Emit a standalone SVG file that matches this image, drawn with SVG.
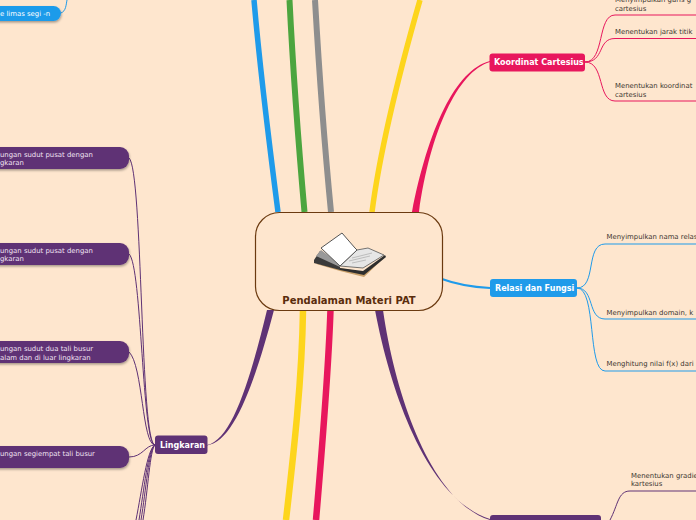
<svg xmlns="http://www.w3.org/2000/svg" width="696" height="520" viewBox="0 0 696 520">
<defs>
<filter id="sh" x="-10%" y="-20%" width="120%" height="150%"><feDropShadow dx="0.5" dy="1.5" stdDeviation="1" flood-color="#000" flood-opacity="0.35"/></filter>
</defs>
<style>
text{font-family:"DejaVu Sans",Verdana,sans-serif}
.p{fill:#5f3275}
.pill{filter:url(#sh)}
.pt{font-size:6.900px;fill:#f0e2f2}
.st{font-size:6.900px;fill:#3d3630}
.bt{font-size:8px;font-weight:bold;fill:#fff}
.c{fill:none}
.pu{stroke:#5f3275;stroke-width:1}
.cr{stroke:#e8175d;stroke-width:1}
.bl{stroke:#1f9bea;stroke-width:1}
</style>
<rect width="696" height="520" fill="#fee6ce"/>
<g id="connectors">
<path class="c" d="M254,0 C260,70 270,150 278,212" stroke="#1f9bea" stroke-width="5.500"/>
<path class="c" d="M289.500,0 C293,70 299,150 304.500,212" stroke="#4ca53f" stroke-width="6"/>
<path class="c" d="M315,0 C319,70 325,150 331,212" stroke="#8e8e8e" stroke-width="6"/>
<path class="c" d="M420,0 C400,70 380,150 372,212" stroke="#fdd51c" stroke-width="5.500"/>
<path d="M412,212 C428,130 455,70 490,61 L490,62 C458,71 430,132 419,212 Z" fill="#e8175d"/>
<path class="c" d="M303,310 C302,380 294,450 286,520" stroke="#fdd51c" stroke-width="6.500"/>
<path class="c" d="M330.500,310 C328,380 322,450 316,520" stroke="#e8175d" stroke-width="6.500"/>
<path d="M267,310 C250,380 232,440 207,445 L207,445.500 C234,442 255,382 274,310 Z" class="p"/>
<path d="M375,310 C392,400 430,500 490,519 L490,520 C433,503 396,400 383,310 Z" class="p"/>
<path d="M442,279 C458,285 472,287 490,288" class="c" stroke="#1f9bea" stroke-width="2"/>
<g class="c pu">
<path d="M155,445 C140,445 143,170 129,158"/>
<path d="M155,445 C142,445 142,265 129,254"/>
<path d="M155,445 C142,445 143,365 129,352"/>
<path d="M155,445 C145,445 143,457 129,457"/>
<path d="M155,445 C147,449 142,490 136,520"/>
<path d="M155,445 C148,449 144,490 139,520"/>
<path d="M155,445 C149,449 146,490 141,520"/>
<path d="M155,445 C150,449 148,490 143,520"/>
<path d="M610,520 C618,505 618,491 630,491"/>
</g>
<path d="M630,491 H696" class="c" stroke="#5f3275" stroke-opacity="0.5" stroke-width="2"/>
<g class="c cr">
<path d="M585,62 C605,62 597,15 615,15 H696"/>
<path d="M585,62 C605,62 597,38.500 615,38.500 H696"/>
<path d="M585,62 C605,62 597,101 615,101 H696"/>
</g>
<g class="c bl">
<path d="M577,288 C597,288 585,244 605,244 H696"/>
<path d="M577,288 C595,288 587,319 605,319 H696"/>
<path d="M577,288 C597,288 587,371 605,371"/>
</g>
<path d="M605,371 H696" class="c" stroke="#1f9bea" stroke-opacity="0.5" stroke-width="2"/>
<path d="M61,13 C66,11 66,5 67,0" class="c bl"/>
</g>
<g id="root">
<rect x="255.500" y="212.500" width="187" height="98" rx="24" fill="#fee6ce" stroke="#6b3a10" stroke-width="1.200"/>
<path d="M340,268 L363,272 L386,256 L364,277 L340,271 L313,263 Z" fill="#c9a06a"/>
<path d="M314,260 L320,251 L340,266 L340,270 L314,263 Z" fill="#3a3a3a"/>
<path d="M316,256 L321,250 L340,264 L340,267 Z" fill="#999"/>
<path d="M340,268 L363,271 L385,255 L386,257 L364,275 L340,270 Z" fill="#2e2e2e"/>
<path d="M357,250 L368,248 L384,255 L363,268 L340,266 Z" fill="#e6e6e6" stroke="#555" stroke-width="0.800"/>
<path d="M321,248 L342,233 L355,248 L357,250 L340,266 Z" fill="#fff" stroke="#555" stroke-width="1"/>
<path d="M352,258 L372,253 M349,261 L370,256 M352,263 L366,260" stroke="#aaa" stroke-width="0.700" fill="none"/>
<text x="349" y="304" text-anchor="middle" font-size="10" font-weight="bold" fill="#5a2d0c">Pendalaman Materi PAT</text>
</g>
<g id="n-koordinat"><rect x="489.500" y="53.500" width="95.500" height="18" rx="3" fill="#e8175d"/><text class="bt" x="494" y="65">Koordinat Cartesius</text></g>
<g id="n-relasi"><rect x="490" y="279" width="87" height="18" rx="3" fill="#1f9bea"/><text class="bt" x="495" y="291">Relasi dan Fungsi</text></g>
<g id="n-lingkaran"><rect x="155" y="435.500" width="52.500" height="18.500" rx="3" class="p"/><text class="bt" x="160" y="448">Lingkaran</text></g>
<g id="n-bottom"><rect x="490" y="515" width="111" height="18" rx="3" class="p"/></g>
<g id="n-limas"><rect x="-20" y="6" width="81" height="15" rx="7.500" fill="#1f9bea" class="pill"/><text x="0" y="16" style="font-size:6.900px;fill:#fff">e limas segi -n</text></g>
<g id="n-l1"><rect x="-20" y="147" width="149" height="22" rx="9" class="p pill"/><text class="pt" x="0" y="157">ungan sudut pusat dengan</text><text class="pt" x="0" y="165">gkaran</text></g>
<g id="n-l2"><rect x="-20" y="243" width="149" height="22" rx="9" class="p pill"/><text class="pt" x="0" y="253">ungan sudut pusat dengan</text><text class="pt" x="0" y="261">gkaran</text></g>
<g id="n-l3"><rect x="-20" y="341" width="149" height="22" rx="9" class="p pill"/><text class="pt" x="0" y="351">ungan sudut dua tali busur</text><text class="pt" x="0" y="360">alam dan di luar lingkaran</text></g>
<g id="n-l4"><rect x="-20" y="446" width="149" height="22" rx="9" class="p pill"/><text class="pt" x="0" y="456">ungan segiempat tali busur</text></g>
<g id="n-k1"><text class="st" x="615" y="2">Menyimpulkan garis g</text><text class="st" x="615" y="11">cartesius</text></g>
<g id="n-k2"><text class="st" x="615" y="34">Menentukan jarak titik</text></g>
<g id="n-k3"><text class="st" x="615" y="88">Menentukan koordinat</text><text class="st" x="615" y="97">cartesius</text></g>
<g id="n-r1"><text class="st" x="606.500" y="239">Menyimpulkan nama relas</text></g>
<g id="n-r2"><text class="st" x="606.500" y="315">Menyimpulkan domain, k</text></g>
<g id="n-r3"><text class="st" x="606.500" y="366">Menghitung nilai f(x) dari</text></g>
<g id="n-g1"><text class="st" x="631" y="478">Menentukan gradie</text><text class="st" x="631" y="486">kartesius</text></g>
</svg>
